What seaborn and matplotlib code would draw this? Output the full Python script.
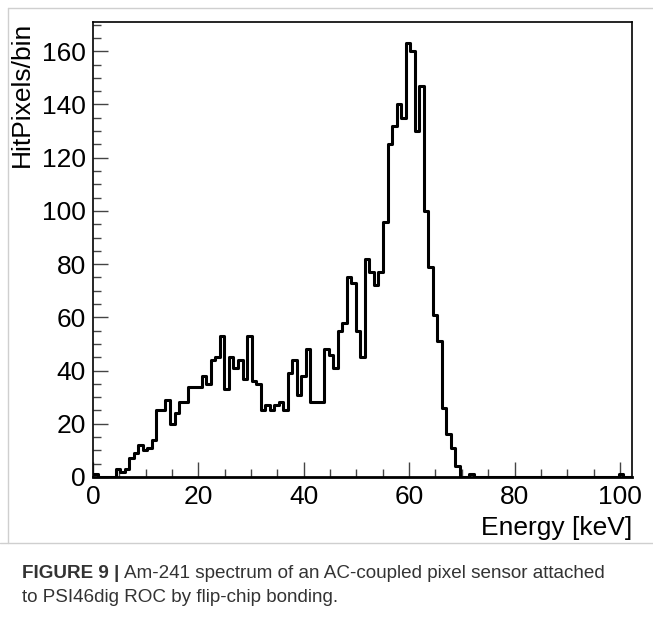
import matplotlib
matplotlib.use("Agg")
import matplotlib.pyplot as plt
from matplotlib.lines import Line2D
from matplotlib.ticker import MultipleLocator
import numpy as np
import pandas as pd
import seaborn as sns

# Am-241 spectrum, counts per bin (bin width ~0.86 keV, starting at 0 keV)
BIN_WIDTH = 0.86
counts = [
    1, 0, 0, 0, 0, 3, 2, 3, 7, 9,
    12, 10, 11, 14, 25, 25, 29, 20, 24, 28,
    28, 34, 34, 34, 38, 35, 44, 45, 53, 33,
    45, 41, 44, 37, 53, 36, 35, 25, 27, 25,
    27, 28, 25, 39, 44, 31, 38, 48, 28, 28,
    28, 48, 46, 41, 55, 58, 75, 73, 55, 45,
    82, 77, 72, 77, 96, 125, 132, 140, 135, 163,
    160, 130, 147, 100, 79, 61, 51, 26, 16, 11,
    4, 0, 0, 1, 0, 0, 0, 0, 0, 0,
    0, 0, 0, 0, 0, 0, 0, 0, 0, 0,
    0, 0, 0, 0, 0, 0, 0, 0, 0, 0,
    0, 0, 0, 0, 0, 0, 1, 0, 0,
]
x_ticks = [0, 20, 40, 60, 80, 100]
y_ticks = [0, 20, 40, 60, 80, 100, 120, 140, 160]
x_label = "Energy [keV]"
y_label = "HitPixels/bin"
caption_bold = "FIGURE 9 | "
caption_text = "Am-241 spectrum of an AC-coupled pixel sensor attached"
caption_text2 = "to PSI46dig ROC by flip-chip bonding."

sns.set_theme(style="white")
plt.rcParams['font.family'] = ['Liberation Sans', 'DejaVu Sans']

edges = np.arange(len(counts) + 1) * BIN_WIDTH
df = pd.DataFrame({'energy': (edges[:-1] + edges[1:]) / 2, 'hits': counts})

fig = plt.figure(figsize=(6.53, 6.19), dpi=100)
fig.patch.set_facecolor('white')
ax = fig.add_axes([93 / 653, 1 - 477 / 619, 539 / 653, 455 / 619])

sns.histplot(data=df, x='energy', weights='hits', bins=list(edges), element='step',
             fill=False, color='black', linewidth=2.2, ax=ax)

ax.set_xlim(0, 102.3)
ax.set_ylim(0, 171)
ax.set_xticks(x_ticks)
ax.set_yticks(y_ticks)
ax.xaxis.set_minor_locator(MultipleLocator(5))
ax.yaxis.set_minor_locator(MultipleLocator(5))
ax.tick_params(axis='both', which='both', bottom=True, left=True, top=False, right=False)
ax.tick_params(axis='both', which='major', direction='in', length=11, width=1,
               colors='#444444', labelsize=19, labelcolor='black')
ax.tick_params(axis='both', which='minor', direction='in', length=6, width=1,
               colors='#444444')
ax.tick_params(axis='x', which='major', pad=6)
ax.tick_params(axis='y', which='major', pad=5)

for side in ['left', 'right', 'top']:
    ax.spines[side].set_color('black')
    ax.spines[side].set_linewidth(1.2)
ax.spines['bottom'].set_color('black')
ax.spines['bottom'].set_linewidth(2)

ax.set_xlabel(x_label, fontsize=19, loc='right', color='black')
ax.set_ylabel(y_label, fontsize=19, loc='top', color='black')
ax.xaxis.set_label_coords(1.0, -0.085)
ax.yaxis.set_label_coords(-0.110, 1.0)
ax.grid(False)

# frame around the chart image and separator above the caption
frame_color = '#cfcfcf'
fig.add_artist(Line2D([8 / 653, 1], [1 - 8 / 619, 1 - 8 / 619], color=frame_color, lw=1))
fig.add_artist(Line2D([8 / 653, 8 / 653], [1 - 8 / 619, 1 - 543 / 619], color=frame_color, lw=1))
fig.add_artist(Line2D([0, 1], [1 - 543 / 619, 1 - 543 / 619], color=frame_color, lw=1))

# caption
t1 = fig.text(22 / 653, 1 - 573 / 619, caption_bold, fontsize=13.6, fontweight='bold',
              color='#333333', va='center', ha='left')
fig.canvas.draw()
bb = t1.get_window_extent()
fig.text(bb.x1 / fig.bbox.width, 1 - 573 / 619, caption_text, fontsize=13.6,
         color='#333333', va='center', ha='left')
fig.text(22 / 653, 1 - 597 / 619, caption_text2, fontsize=13.6,
         color='#333333', va='center', ha='left')

fig.savefig('out.png', dpi=100, facecolor='white')
